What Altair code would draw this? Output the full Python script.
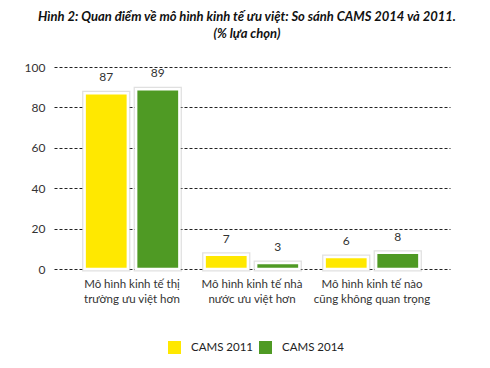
import altair as alt
import pandas as pd

categories = [
    "Mô hình kinh tế thị\ntrường ưu việt hơn",
    "Mô hình kinh tế nhà\nnước ưu việt hơn",
    "Mô hình kinh tế nào\ncũng không quan trọng",
]
series = ["CAMS 2011", "CAMS 2014"]
cams2011 = [87, 7, 6]
cams2014 = [89, 3, 8]
colors = ["#FFE800", "#4F9A24"]

rows = []
for i, c in enumerate(categories):
    rows.append({"cat": c, "series": series[0], "value": cams2011[i]})
    rows.append({"cat": c, "series": series[1], "value": cams2014[i]})
df = pd.DataFrame(rows)

FONT = "Lato"

x = alt.X("cat:N", sort=categories, title=None,
          scale=alt.Scale(paddingInner=0.21, paddingOuter=0.255),
          axis=alt.Axis(labelAngle=0, domain=False, ticks=False, labelPadding=9,
                        labelExpr="split(datum.value, '\\n')", labelLineHeight=15,
                        labelFontSize=11.5, labelColor="#333333", labelFont=FONT))
y = alt.Y("value:Q", title=None,
          scale=alt.Scale(domain=[0, 100], nice=False),
          axis=alt.Axis(values=[0, 20, 40, 60, 80, 100], domain=False, ticks=False,
                        labelPadding=9, labelFontSize=12, labelColor="#333333",
                        labelFont=FONT, grid=True, gridColor="#222222",
                        gridDash=[3, 2], gridWidth=1))
xoff = alt.XOffset("series:N", sort=series, scale=alt.Scale(paddingInner=0.16))
color = alt.Color("series:N", sort=series,
                  scale=alt.Scale(domain=series, range=colors),
                  legend=alt.Legend(title=None, orient="none", legendX=112, legendY=272,
                                    direction="horizontal", symbolType="square",
                                    symbolSize=225, symbolStrokeColor="#ffffff",
                                    symbolStrokeWidth=2, symbolOpacity=1,
                                    labelFontSize=11.5, labelColor="#222222",
                                    labelFont=FONT, labelOffset=8, columnPadding=0,
                                    padding=0))

base = alt.Chart(df)
shadow = base.mark_bar(fill="#cccccc", stroke="#bbbbbb", strokeWidth=5,
                       strokeOpacity=0.45).encode(x=x, y=y, xOffset=xoff)
bars = base.mark_bar(stroke="#ffffff", strokeWidth=2.5).encode(
    x=x, y=y, xOffset=xoff, color=color)
labels = base.mark_text(baseline="alphabetic", dy=-12, fontSize=12, color="#333333",
                        font=FONT).encode(
    x=x, y=y, xOffset=xoff, text="value:Q")

chart = alt.layer(shadow, bars, labels).properties(
    width=396, height=202,
    autosize=alt.AutoSizeParams(type="none"),
    padding={"left": 46, "right": 32, "top": 59, "bottom": 91},
    title=alt.TitleParams(
        ["Hình 2: Quan điểm về mô hình kinh tế ưu việt: So sánh CAMS 2014 và 2011.",
         "(% lựa chọn)"],
        anchor="middle", frame="group", dx=-5, offset=20, lineHeight=17,
        fontSize=13, font=FONT, fontStyle="italic", fontWeight="bold",
        color="#111111"),
).configure_view(stroke=None)

chart.save("out.html", embed_options={"renderer": "svg", "actions": False})
